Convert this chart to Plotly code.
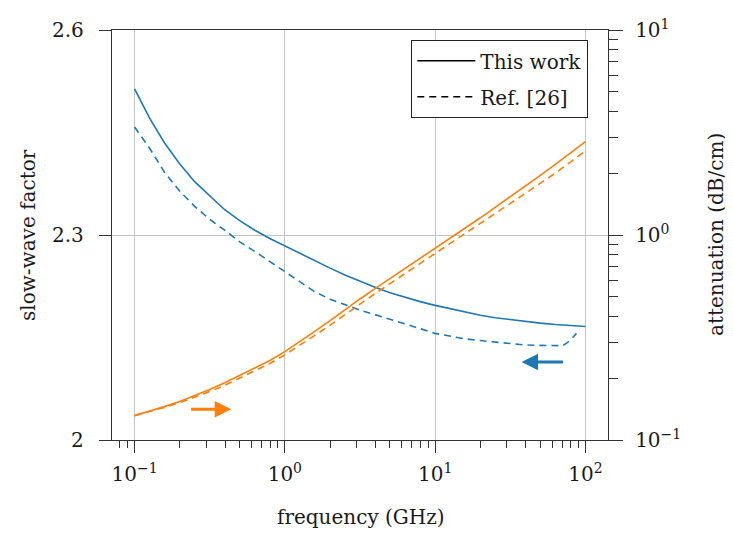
import plotly.graph_objects as go

# ---- data ----
freq = [0.1, 0.126, 0.158, 0.2, 0.251, 0.316, 0.398, 0.501, 0.631, 0.794,
        1, 1.26, 1.58, 2, 2.51, 3.16, 3.98, 5.01, 6.31, 7.94,
        10, 12.6, 15.8, 20, 25.1, 31.6, 39.8, 50.1, 63.1, 79.4, 100]

sw_this = [2.514, 2.471, 2.435, 2.404, 2.378, 2.357, 2.337, 2.321, 2.307, 2.295,
           2.284, 2.273, 2.262, 2.2515, 2.2415, 2.232, 2.2235, 2.2155, 2.2085, 2.2025,
           2.197, 2.192, 2.1875, 2.1825, 2.179, 2.176, 2.1735, 2.171, 2.169, 2.1675, 2.166]

freq_sw_ref = [0.1, 0.126, 0.158, 0.2, 0.251, 0.316, 0.398, 0.501, 0.631, 0.794,
               1, 1.26, 1.58, 2, 2.51, 3.16, 3.98, 5.01, 6.31, 7.94,
               10, 12.6, 15.8, 20, 25.1, 31.6, 39.8, 50.1, 63.1, 70.8, 79.4, 87.1]
sw_ref = [2.458, 2.427, 2.392, 2.364, 2.342, 2.323, 2.307, 2.290, 2.276, 2.261,
          2.247, 2.231, 2.217, 2.206, 2.198, 2.190, 2.1835, 2.177, 2.170, 2.163,
          2.156, 2.152, 2.148, 2.1455, 2.143, 2.1405, 2.139, 2.1385, 2.1375, 2.138, 2.146, 2.156]

att_this = [0.1315, 0.1380, 0.1455, 0.1542, 0.1644, 0.1762, 0.1901, 0.2065, 0.2234, 0.2443,
            0.2698, 0.3013, 0.3388, 0.3819, 0.4315, 0.4875, 0.5470, 0.6124, 0.6855, 0.7674,
            0.8590, 0.9616, 1.0789, 1.2134, 1.3646, 1.5346, 1.7298, 1.9543, 2.2080, 2.5061, 2.8510]
att_ref = [0.1315, 0.1374, 0.1442, 0.1521, 0.1614, 0.1722, 0.1849, 0.2004, 0.2163, 0.2360,
           0.2600, 0.2891, 0.3236, 0.3631, 0.4093, 0.4613, 0.5176, 0.5794, 0.6501, 0.7295,
           0.8166, 0.9099, 1.0162, 1.1376, 1.2735, 1.4256, 1.5959, 1.7906, 2.0045, 2.2699, 2.5704]

x_ticks = [0.1, 1, 10, 100]
x_ticktext = ["10<sup>−1</sup>", "10<sup>0</sup>", "10<sup>1</sup>", "10<sup>2</sup>"]
y_ticks = [2, 2.3, 2.6]
y_ticktext = ["2", "2.3", "2.6"]
y2_ticks = [0.1, 1, 10]
y2_ticktext = ["10<sup>−1</sup>", "10<sup>0</sup>", "10<sup>1</sup>"]

BLUE = "#1f77b4"
ORANGE = "#ff7f0e"
FONT = "DejaVu Serif"
FS = 20
DASH = "7px,5px"
TXT = "#1a1a1a"
LW = 1.6

fig = go.Figure()
fig.add_trace(go.Scatter(x=freq, y=sw_this, mode="lines", line=dict(color=BLUE, width=LW),
                         showlegend=False, yaxis="y"))
fig.add_trace(go.Scatter(x=freq_sw_ref, y=sw_ref, mode="lines", line=dict(color=BLUE, width=LW, dash=DASH),
                         showlegend=False, yaxis="y"))
fig.add_trace(go.Scatter(x=freq, y=att_this, mode="lines", line=dict(color=ORANGE, width=LW),
                         showlegend=False, yaxis="y2"))
fig.add_trace(go.Scatter(x=freq, y=att_ref, mode="lines", line=dict(color=ORANGE, width=LW, dash=DASH),
                         showlegend=False, yaxis="y2"))
# legend entries
fig.add_trace(go.Scatter(x=[None], y=[None], mode="lines", line=dict(color="black", width=LW),
                         name="This work", legendgroup="a"))
fig.add_trace(go.Scatter(x=[None], y=[None], mode="lines", line=dict(color="black", width=LW, dash=DASH),
                         name="Ref. [26]", legendgroup="b"))

# page body has an 8px margin: figure origin sits at (8, 8) of the window
OFF = 8
W, H = 733 - OFF, 535 - OFF
L, T = 112 - OFF, 30 - OFF
PW, PH = 496, 410
R, B = W - L - PW, H - T - PH

def px(x):
    return (x - 112) / PW

def py(y):
    return (440 - y) / PH

AXC = "#333333"
GRID = "#c4c4c4"

minor_x = [0.08, 0.09] + [k * 0.1 for k in range(2, 10)] + list(range(2, 10)) + \
    [k * 10 for k in range(2, 10)] + [k * 100 for k in range(2, 10)]
minor_y2 = [k * 0.1 for k in range(2, 10)] + list(range(2, 10))

fig.update_layout(
    width=W, height=H,
    margin=dict(l=L, r=R, t=T, b=B, autoexpand=False),
    paper_bgcolor="white", plot_bgcolor="white",
    font=dict(family=FONT, size=FS, color=TXT),
    xaxis=dict(type="log", range=[-1.15, 2.15], tickvals=x_ticks, ticktext=x_ticktext,
               showgrid=True, gridcolor=GRID, gridwidth=1, zeroline=False,
               showline=True, linecolor=AXC, linewidth=1.3, mirror=True,
               ticks="outside", ticklen=12, tickcolor=AXC, tickwidth=1,
               minor=dict(tickvals=minor_x, ticks="outside", ticklen=7, tickcolor=AXC, showgrid=False),
               tickfont=dict(family=FONT, size=FS, color=TXT), ticklabelstandoff=4),
    yaxis=dict(range=[2, 2.6], tickvals=y_ticks, ticktext=y_ticktext,
               showgrid=True, gridcolor=GRID, gridwidth=1, zeroline=False,
               showline=True, linecolor=AXC, linewidth=1.3,
               ticks="outside", ticklen=12, tickcolor=AXC, tickwidth=1,
               tickfont=dict(family=FONT, size=FS, color=TXT), ticklabelstandoff=11),
    yaxis2=dict(type="log", range=[-1, 1], overlaying="y", side="right",
                tickvals=y2_ticks, ticktext=y2_ticktext, showgrid=False, zeroline=False,
                showline=True, linecolor=AXC, linewidth=1.3,
                ticks="outside", ticklen=14, tickcolor=AXC, tickwidth=1,
                minor=dict(tickvals=minor_y2, ticks="outside", ticklen=9, tickcolor=AXC, showgrid=False),
                tickfont=dict(family=FONT, size=FS, color=TXT), ticklabelstandoff=8),
    legend=dict(x=px(411), y=py(40), xanchor="left", yanchor="top",
                bgcolor="white", bordercolor="#222222", borderwidth=1.3, itemwidth=58,
                entrywidth=160, entrywidthmode="pixels",
                font=dict(family=FONT, size=FS, color=TXT), tracegroupgap=7),
    showlegend=True,
)

# light gray strip at the right edge of the page
GRAY = "#ebebe6"
fig.add_shape(type="rect", xref="paper", yref="paper",
              x0=px(727), x1=px(740), y0=py(540), y1=py(0),
              fillcolor=GRAY, line=dict(width=0), layer="below")

# axis titles
fig.add_annotation(text="frequency (GHz)", xref="paper", yref="paper", x=px(361), y=py(517),
                   xanchor="center", yanchor="middle",
                   showarrow=False, font=dict(family=FONT, size=FS, color=TXT))
fig.add_annotation(text="slow-wave factor", xref="paper", yref="paper", x=px(28), y=py(235),
                   xanchor="center", yanchor="middle",
                   textangle=-90, showarrow=False, font=dict(family=FONT, size=FS, color=TXT))
fig.add_annotation(text="attenuation (dB/cm)", xref="paper", yref="paper", x=px(716), y=py(235),
                   xanchor="center", yanchor="middle",
                   textangle=-90, showarrow=False, font=dict(family=FONT, size=FS, color=TXT))

# direction arrows
fig.add_annotation(x=-0.357, y=2.045, ax=-0.634, ay=2.045, xref="x", yref="y", axref="x", ayref="y",
                   showarrow=True, arrowhead=2, arrowsize=1.1, arrowwidth=3, arrowcolor=ORANGE, text="")
fig.add_annotation(x=1.575, y=2.114, ax=1.861, ay=2.114, xref="x", yref="y", axref="x", ayref="y",
                   showarrow=True, arrowhead=2, arrowsize=1.1, arrowwidth=3, arrowcolor=BLUE, text="")

fig.write_html("out.html")
